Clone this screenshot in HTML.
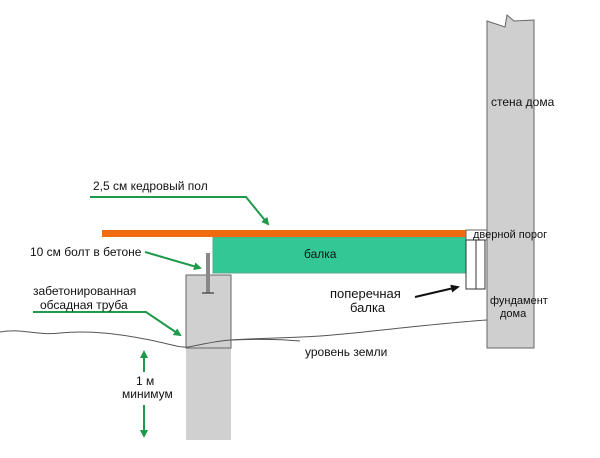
<!DOCTYPE html>
<html><head><meta charset="utf-8"><style>
body{margin:0;background:#fff}
svg text{font-family:"Liberation Sans","DejaVu Sans",sans-serif;font-size:12px;fill:#111}
</style></head><body>
<svg width="600" height="453" viewBox="0 0 600 453" xmlns="http://www.w3.org/2000/svg">
<defs>
<marker id="g" markerWidth="8" markerHeight="8" refX="6" refY="4" orient="auto" markerUnits="userSpaceOnUse"><path d="M0,0 L8,4 L0,8 z" fill="#1e9a4a"/></marker>
<marker id="k" markerWidth="9" markerHeight="8" refX="7" refY="4" orient="auto" markerUnits="userSpaceOnUse"><path d="M0,0 L9,4 L0,8 z" fill="#111"/></marker>
</defs>
<!-- wall -->
<path d="M487,21 L505,27 L507,15 L514,21 L534,20 L534,348 L487,348 Z" fill="#cfcfcf" stroke="#666" stroke-width="1"/>
<!-- pier -->
<rect x="186" y="275" width="45" height="165" fill="#d0d0d0"/>
<rect x="186" y="275" width="45" height="73" fill="none" stroke="#666" stroke-width="1"/>
<!-- bolt -->
<rect x="206" y="253" width="4" height="40" fill="#888"/>
<line x1="202" y1="293" x2="214" y2="293" stroke="#555" stroke-width="1.5"/>
<!-- beam -->
<rect x="213" y="237" width="253" height="36" fill="#33c795" stroke="#5a8" stroke-width="1"/>
<!-- plank -->
<rect x="102" y="230" width="364" height="7" fill="#f06a10"/>
<!-- threshold -->
<rect x="466" y="230" width="21" height="10" fill="#fff" stroke="#666" stroke-width="1"/>
<rect x="466" y="240" width="19" height="49" fill="#fff" stroke="#333" stroke-width="1"/>
<line x1="476" y1="240" x2="476" y2="289" stroke="#333"/>
<!-- ground -->
<path d="M0,332 C20,328 40,336 60,333 C90,330 120,334 150,340 C170,344 180,348 188,347 C200,345 215,341 231,340 C260,338 290,338 320,336 C350,334 380,330 420,326 C450,323 470,321 487,320" fill="none" stroke="#555" stroke-width="1"/>
<path d="M231,340 C255,339 280,339 300,341" fill="none" stroke="#555" stroke-width="1"/>
<!-- green arrows -->
<polyline points="90,197 246,197 268,224" fill="none" stroke="#1e9a4a" stroke-width="2" marker-end="url(#g)"/>
<polyline points="145,252 200,268" fill="none" stroke="#1e9a4a" stroke-width="2" marker-end="url(#g)"/>
<polyline points="33,312 146,312 180,335" fill="none" stroke="#1e9a4a" stroke-width="2" marker-end="url(#g)"/>
<line x1="144" y1="372" x2="144" y2="352" stroke="#1e9a4a" stroke-width="2" marker-end="url(#g)"/>
<line x1="144" y1="405" x2="144" y2="436" stroke="#1e9a4a" stroke-width="2" marker-end="url(#g)"/>
<!-- black arrow -->
<path d="M415,297 L458,287" stroke="#111" stroke-width="2" fill="none" marker-end="url(#k)"/>
<!-- labels -->
<text x="93" y="190">2,5 см кедровый пол</text>
<text x="30" y="256">10 см болт в бетоне</text>
<text x="33" y="295">забетонированная</text>
<text x="40" y="309">обсадная труба</text>
<text x="136" y="385">1 м</text>
<text x="122" y="398">минимум</text>
<text x="304" y="258">балка</text>
<text x="330" y="298" style="font-size:13px">поперечная</text>
<text x="350" y="312" style="font-size:13px">балка</text>
<text x="491" y="106">стена дома</text>
<text x="473" y="238" style="font-size:11px">дверной порог</text>
<text x="490" y="304" style="font-size:11px">фундамент</text>
<text x="500" y="317" style="font-size:11px">дома</text>
<text x="305" y="356">уровень земли</text>
</svg>
</body></html>
